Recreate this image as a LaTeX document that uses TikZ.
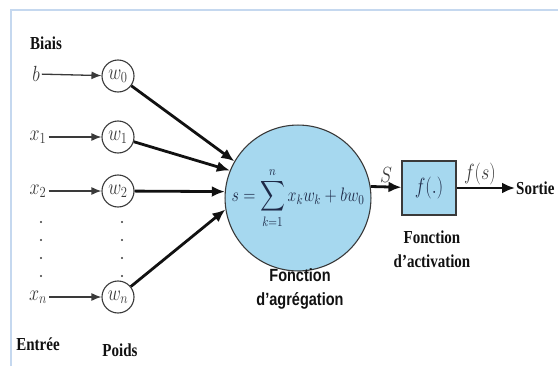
\RequirePackage{fix-cm}
\documentclass[tikz,border=0pt]{standalone}
\usepackage{amsmath}
\usepackage{fontspec}
\usepackage{graphicx}
\newfontfamily\labfont{Liberation Serif}
\newfontfamily\aggfont{Liberation Sans}
\usepackage{tikz}
\usetikzlibrary{arrows.meta,positioning}
\definecolor{ink}{HTML}{111111}
\definecolor{ink2}{HTML}{3A3A3A}
\definecolor{navy}{HTML}{1E2A48}
\definecolor{cell}{HTML}{A6D8EF}
\definecolor{rimblue}{HTML}{C5D8EF}
\newcommand{\vst}[1]{\scalebox{1}[1.22]{#1}}
\tikzset{
  mathlab/.style={font=\fontsize{18}{22}\selectfont,text=ink2,inner sep=2pt},
  wcirc/.style={circle,draw=ink2,line width=1.1pt,fill=white,minimum size=32pt,inner sep=0pt,font=\fontsize{18}{20}\selectfont,text=ink2},
  sumcirc/.style={circle,draw=ink2,line width=1.1pt,fill=cell,minimum size=132pt,inner sep=0pt,font=\fontsize{16}{20}\selectfont,text=navy},
  actbox/.style={draw=ink2,line width=1.1pt,fill=cell,minimum size=54pt,inner sep=0pt,font=\fontsize{18}{22}\selectfont,text=navy},
  lab/.style={font=\labfont\bfseries\fontsize{15}{24}\selectfont,text=ink,align=center,inner sep=1pt},
  slab/.style={font=\aggfont\bfseries\fontsize{14.5}{24}\selectfont,text=ink,align=center,inner sep=1pt},
  inarr/.style={-{Latex[length=10pt,width=8pt]},draw=ink2,line width=1.3pt},
  warr/.style={-{Latex[length=13pt,width=11pt]},draw=ink,line width=2.8pt},
  rim/.style={draw=rimblue,line width=2pt},
}

\begin{document}
\begin{tikzpicture}[x=1pt,y=-1pt]
  \useasboundingbox (0,0) rectangle (558,367);
  \draw[rim] (11,366) -- (11,10) -- (558,10);
  % inputs and weights
  \node[lab] (biais) at (46,43) {\vst{Biais}};
  \node[mathlab] (b) at (36,74) {\vst{$b$}};
  \node[mathlab] (x1) at (38,137) {\vst{$x_1$}};
  \node[mathlab] (x2) at (38,191) {\vst{$x_2$}};
  \node[mathlab] (xn) at (38,297) {\vst{$x_n$}};
  \node[wcirc] (w0) at (118,76) {\vst{$w_0$}};
  \node[wcirc] (w1) at (118,137) {\vst{$w_1$}};
  \node[wcirc] (w2) at (118,191) {\vst{$w_2$}};
  \node[wcirc] (wn) at (118,297) {\vst{$w_n$}};
  \foreach \y in {222,240,258,276} {
    \fill[ink2] (41,\y) circle (1.1pt);
    \fill[ink2] (122,\y) circle (1.1pt);
  }
  \node[lab] (entree) at (38,344) {\vst{Entrée}};
  \node[lab] (poids) at (120,350) {\vst{Poids}};
  \draw[inarr] (b) -- (w0);
  \draw[inarr] (x1) -- (w1);
  \draw[inarr] (x2) -- (w2);
  \draw[inarr] (xn) -- (wn);
  % aggregation and activation
  \node[sumcirc] (sum) at (298,198) {\vst{$\displaystyle s=\sum_{k=1}^{n}x_kw_k+bw_0$}};
  \draw[warr] (w0) -- (sum.150);
  \draw[warr] (w1) -- (sum.158);
  \draw[warr] (w2) -- (sum.175);
  \draw[warr] (wn) -- (sum.189);
  \node[slab] (agg) at (300,289) {\vst{Fonction}\\\vst{d’agrégation}};
  \node[actbox] (act) at (429,188) {\vst{$f(.)$}};
  \node[lab] (activ) at (432,249) {\vst{Fonction}\\\vst{d’activation}};
  \node[lab,anchor=west] (sortie) at (515,188) {\vst{Sortie}};
  \draw[warr] (sum.9) -- node[mathlab,above=1pt]{\vst{$S$}} (act);
  \draw[warr] (act) -- node[mathlab,above=0pt,pos=0.4]{\vst{$f(s)$}} (sortie);
\end{tikzpicture}
\end{document}
